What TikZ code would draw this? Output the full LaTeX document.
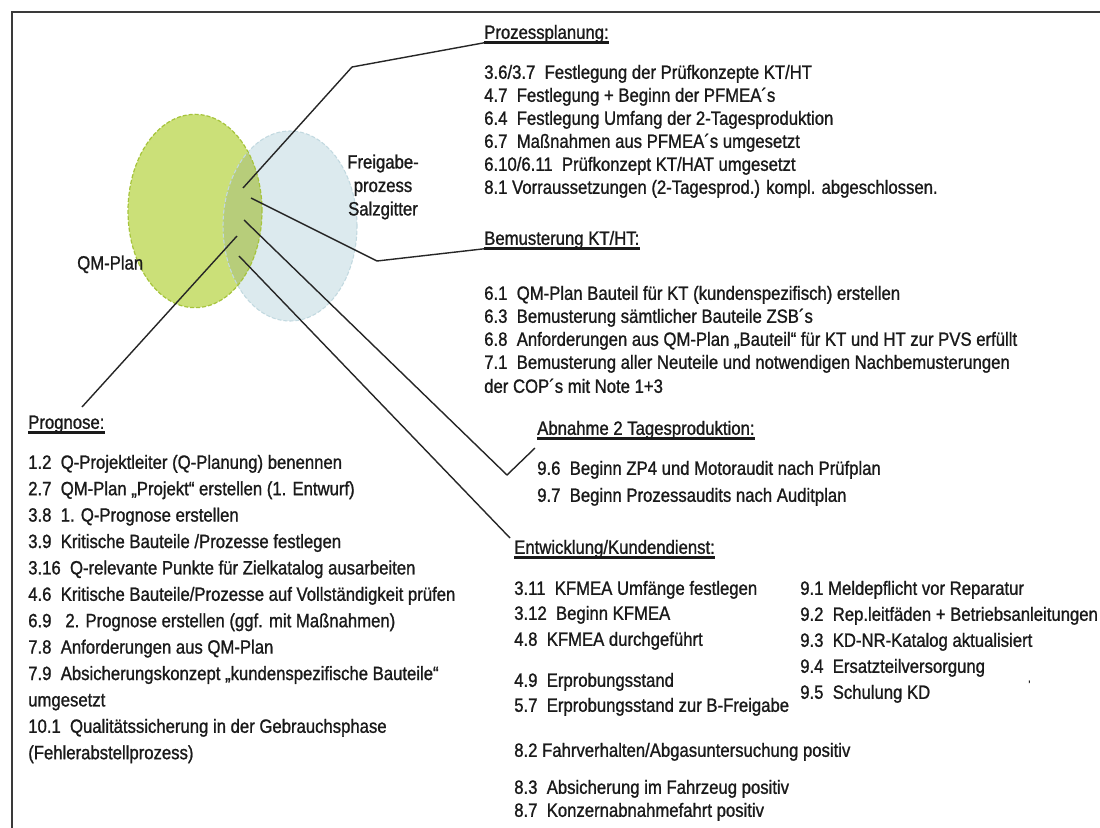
\documentclass[tikz,border=0pt]{standalone}
\usepackage{fontspec}
\setmainfont{Liberation Sans}[FakeStretch=0.87, FakeBold=1.1]
\definecolor{ink}{HTML}{1A1A1A}
\definecolor{qmgreen}{HTML}{CBE078}
\definecolor{qmgreenline}{HTML}{A6C43C}
\definecolor{fgblue}{HTML}{DCEAEE}
\definecolor{fgblueline}{HTML}{C2D9E0}
\definecolor{overlapgreen}{HTML}{B7CD7A}
\definecolor{framegray}{HTML}{3A3A3A}
\definecolor{wiregray}{HTML}{262626}
\tikzset{
  txt/.style={anchor=base west, inner sep=0pt, text=ink,
    font=\fontsize{14.4}{17}\selectfont},
  uline/.style={draw=ink, line width=2pt},
  wire/.style={draw=wiregray, line width=1.05pt, line join=round},
}
\begin{document}
\begin{tikzpicture}[x=0.75pt, y=-0.75pt]
\useasboundingbox (0,0) rectangle (1100,828);
\fill[white] (0,0) rectangle (1100,828);
% open frame: left and top edges
\draw[framegray, line width=1.5pt] (12,828) -- (12,12) -- (1100,12);

% Venn diagram
\fill[fgblue] (290,226) ellipse [x radius=50.25pt, y radius=71.25pt];
\fill[qmgreen] (195,211) ellipse [x radius=50.25pt, y radius=72.5pt];
\begin{scope}
  \clip (195,211) ellipse [x radius=50.25pt, y radius=72.5pt];
  \fill[overlapgreen] (290,226) ellipse [x radius=50.25pt, y radius=71.25pt];
\end{scope}
\draw[fgblueline, line width=0.8pt, dash pattern=on 3pt off 1.5pt]
  (290,226) ellipse [x radius=50.25pt, y radius=71.25pt];
\draw[qmgreenline, line width=0.9pt, dash pattern=on 3pt off 1.5pt]
  (195,211) ellipse [x radius=50.25pt, y radius=72.5pt];

\node[txt] (qm) at (77,269.5) {QM-Plan};
\node[anchor=center, inner sep=0pt, text=ink, align=center,
  font=\fontsize{14.4}{17.6}\selectfont] (fg) at (383,187) {Freigabe-\\prozess\\Salzgitter};

% Prozessplanung
\node[txt] (pph) at (484,38.8) {Prozessplanung:};
\node[txt] (pp1) at (484,78.8) {3.6/3.7\ \ Festlegung der Prüfkonzepte KT/HT};
\node[txt] (pp2) at (484,101.8) {4.7\ \ Festlegung + Beginn der PFMEA´s};
\node[txt] (pp3) at (484,124.8) {6.4\ \ Festlegung Umfang der 2-Tagesproduktion};
\node[txt] (pp4) at (484,147.8) {6.7\ \ Maßnahmen aus PFMEA´s umgesetzt};
\node[txt] (pp5) at (484,170.8) {6.10/6.11\ \ Prüfkonzept KT/HAT umgesetzt};
\node[txt] (pp6) at (484,193.8) {8.1 Vorraussetzungen (2-Tagesprod.) kompl. abgeschlossen.};

% Bemusterung
\node[txt] (bmh) at (484,244.8) {Bemusterung KT/HT:};
\node[txt] (bm1) at (484,299.8) {6.1\ \ QM-Plan Bauteil für KT (kundenspezifisch) erstellen};
\node[txt] (bm2) at (484,322.8) {6.3\ \ Bemusterung sämtlicher Bauteile ZSB´s};
\node[txt] (bm3) at (484,345.8) {6.8\ \ Anforderungen aus QM-Plan „Bauteil“ für KT und HT zur PVS erfüllt};
\node[txt] (bm4) at (484,368.8) {7.1\ \ Bemusterung aller Neuteile und notwendigen Nachbemusterungen};
\node[txt] (bm5) at (484,392.8) {der COP´s mit Note 1+3};

% Abnahme
\node[txt] (abh) at (537,434.8) {Abnahme 2 Tagesproduktion:};
\node[txt] (ab1) at (537,474.8) {9.6\ \ Beginn ZP4 und Motoraudit nach Prüfplan};
\node[txt] (ab2) at (537,501.8) {9.7\ \ Beginn Prozessaudits nach Auditplan};

% Prognose
\node[txt] (pgh) at (28,428.8) {Prognose:};
\node[txt] (pg1) at (28,468.8) {1.2\ \ Q-Projektleiter (Q-Planung) benennen};
\node[txt] (pg2) at (28,495.2) {2.7\ \ QM-Plan „Projekt“ erstellen (1. Entwurf)};
\node[txt] (pg3) at (28,521.6) {3.8\ \ 1. Q-Prognose erstellen};
\node[txt] (pg4) at (28,548.0) {3.9\ \ Kritische Bauteile /Prozesse festlegen};
\node[txt] (pg5) at (28,574.4) {3.16\ \ Q-relevante Punkte für Zielkatalog ausarbeiten};
\node[txt] (pg6) at (28,600.8) {4.6\ \ Kritische Bauteile/Prozesse auf Vollständigkeit prüfen};
\node[txt] (pg7) at (28,627.2) {6.9\ \ \ 2. Prognose erstellen (ggf. mit Maßnahmen)};
\node[txt] (pg8) at (28,653.6) {7.8\ \ Anforderungen aus QM-Plan};
\node[txt] (pg9) at (28,680.0) {7.9\ \ Absicherungskonzept „kundenspezifische Bauteile“};
\node[txt] (pg10) at (28,706.4) {umgesetzt};
\node[txt] (pg11) at (28,732.8) {10.1\ \ Qualitätssicherung in der Gebrauchsphase};
\node[txt] (pg12) at (28,759.2) {(Fehlerabstellprozess)};

% Entwicklung / Kundendienst
\node[txt] (ewh) at (514,553.8) {Entwicklung/Kundendienst:};
\node[txt] (ew1) at (514,594.8) {3.11\ \ KFMEA Umfänge festlegen};
\node[txt] (ew2) at (514,619.8) {3.12\ \ Beginn KFMEA};
\node[txt] (ew3) at (514,645.8) {4.8\ \ KFMEA durchgeführt};
\node[txt] (ew4) at (514,686.8) {4.9\ \ Erprobungsstand};
\node[txt] (ew5) at (514,711.8) {5.7\ \ Erprobungsstand zur B-Freigabe};
\node[txt] (ew6) at (514,756.8) {8.2 Fahrverhalten/Abgasuntersuchung positiv};
\node[txt] (ew7) at (514,793.8) {8.3\ \ Absicherung im Fahrzeug positiv};
\node[txt] (ew8) at (514,816.8) {8.7\ \ Konzernabnahmefahrt positiv};
\node[txt] (kd1) at (800,594.8) {9.1 Meldepflicht vor Reparatur};
\node[txt] (kd2) at (800,620.8) {9.2\ \ Rep.leitfäden + Betriebsanleitungen};
\node[txt] (kd3) at (800,646.8) {9.3\ \ KD-NR-Katalog aktualisiert};
\node[txt] (kd4) at (800,672.8) {9.4\ \ Ersatzteilversorgung};
\node[txt] (kd5) at (800,698.8) {9.5\ \ Schulung KD};
\node[txt, font=\fontsize{8}{8}\selectfont] (tick) at (1028,688) {'};

% heading underlines
\foreach \h in {pph,bmh,abh,pgh,ewh}
  \draw[uline] ([yshift=-3pt]\h.base west) -- ([yshift=-3pt]\h.base east);

% connectors from the overlap to the headings
\coordinate (s1) at (243,188);
\coordinate (s2) at (251,198);
\coordinate (s4) at (244,220);
\coordinate (s3) at (237,236);
\coordinate (s5) at (239,256);
\coordinate (k1) at (352,67);
\coordinate (k2) at (377,261);
\coordinate (k4) at (507,475);
\coordinate (e3) at (82,407);
\coordinate (e4) at (535,448);
\coordinate (e5) at (510,538);
\draw[wire] (s1) -- (k1) -- ([yshift=-3pt]pph.base west);
\draw[wire] (s2) -- (k2) -- ([yshift=-3pt]bmh.base west);
\draw[wire] (s3) -- (e3);
\draw[wire] (s4) -- (k4) -- (e4);
\draw[wire] (s5) -- (e5);
\end{tikzpicture}
\end{document}
